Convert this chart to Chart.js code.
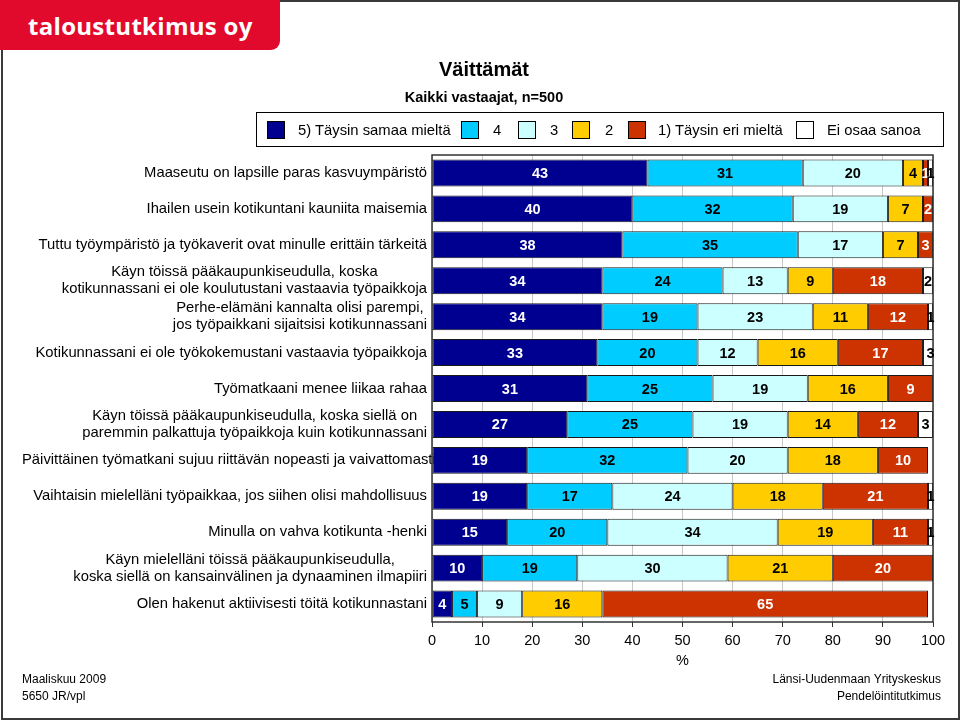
<!DOCTYPE html>
<html>
<head>
<meta charset="utf-8">
<script src="https://cdn.jsdelivr.net/npm/chart.js@4.4.1/dist/chart.umd.min.js"></script>
<style>
  html, body { margin: 0; padding: 0; background: #fff; }
  body { width: 960px; height: 720px; position: relative; overflow: hidden; font-family: "Liberation Sans", Arial, sans-serif; }
  #frame { position: absolute; left: 1px; top: 0; width: 955px; height: 716px; border: 2px solid #3a3a3a; box-sizing: content-box; }
  #logo { position: absolute; left: 0; top: 0; width: 280px; height: 50px; background: #e20a2c; border-bottom-right-radius: 9px; }
  #logo span { position: absolute; left: 28px; top: 9px; color: #fff; font-family: "Open Sans", sans-serif; font-weight: bold; font-size: 24px; letter-spacing: 0.3px; }
  #chart { position: absolute; left: 0; top: 0; }
  .title { position: absolute; left: 384px; width: 200px; text-align: center; font-weight: bold; color: #000; }
  #legend { position: absolute; left: 256px; top: 112px; width: 686px; height: 33px; border: 1px solid #000; font-size: 14.8px; }
  #legend .sw { position: absolute; top: 8px; width: 18px; height: 18px; border: 1px solid #000; box-sizing: border-box; }
  #legend .lt { position: absolute; top: 8px; line-height: 18px; }
  .foot { position: absolute; font-size: 12px; line-height: 17px; color: #000; }
</style>
</head>
<body>
<div id="frame"></div>
<canvas id="chart" width="960" height="720"></canvas>
<div id="logo"><span>taloustutkimus oy</span></div>
<div class="title" style="top:58px;font-size:20px;">Väittämät</div>
<div class="title" style="top:89px;font-size:14.5px;">Kaikki vastaajat, n=500</div>
<div id="legend"></div>
<div class="foot" style="left:22px;top:671px;">Maaliskuu 2009<br>5650 JR/vpl</div>
<div class="foot" style="right:19px;top:671px;text-align:right;">Länsi-Uudenmaan Yrityskeskus<br>Pendelöintitutkimus</div>
<script>
const categories = [
    ['Maaseutu on lapsille paras kasvuympäristö'],
    ['Ihailen usein kotikuntani kauniita maisemia'],
    ['Tuttu työympäristö ja työkaverit ovat minulle erittäin tärkeitä'],
    ['Käyn töissä pääkaupunkiseudulla, koska', 'kotikunnassani ei ole koulutustani vastaavia työpaikkoja'],
    ['Perhe-elämäni kannalta olisi parempi,', 'jos työpaikkani sijaitsisi kotikunnassani'],
    ['Kotikunnassani ei ole työkokemustani vastaavia työpaikkoja'],
    ['Työmatkaani menee liikaa rahaa'],
    ['Käyn töissä pääkaupunkiseudulla, koska siellä on', 'paremmin palkattuja työpaikkoja kuin kotikunnassani'],
    ['Päivittäinen työmatkani sujuu riittävän nopeasti ja vaivattomasti'],
    ['Vaihtaisin mielelläni työpaikkaa, jos siihen olisi mahdollisuus'],
    ['Minulla on vahva kotikunta -henki'],
    ['Käyn mielelläni töissä pääkaupunkiseudulla,', 'koska siellä on kansainvälinen ja dynaaminen ilmapiiri'],
    ['Olen hakenut aktiivisesti töitä kotikunnastani']
];

const seriesNames = ['5) Täysin samaa mieltä', '4', '3', '2', '1) Täysin eri mieltä', 'Ei osaa sanoa'];
const seriesColors = ['#000090', '#00ccff', '#ccffff', '#ffcc00', '#cc3300', '#ffffff'];
const labelColors = ['#fff', '#000', '#000', '#000', '#fff', '#000'];

const agree5 = [43, 40, 38, 34, 34, 33, 31, 27, 19, 19, 15, 10, 4];
const agree4 = [31, 32, 35, 24, 19, 20, 25, 25, 32, 17, 20, 19, 5];
const neutral3 = [20, 19, 17, 13, 23, 12, 19, 19, 20, 24, 34, 30, 9];
const disagree2 = [4, 7, 7, 9, 11, 16, 16, 14, 18, 18, 19, 21, 16];
const disagree1 = [1, 2, 3, 18, 12, 17, 9, 12, 10, 21, 11, 20, 65];
const dontKnow = [1, 0, 0, 2, 1, 3, 0, 3, 0, 1, 1, 0, 0];

const xTicks = [0, 10, 20, 30, 40, 50, 60, 70, 80, 90, 100];

const allSeries = [agree5, agree4, neutral3, disagree2, disagree1, dontKnow];

// legend (swatch x, text x relative to the box)
const legendPos = [[10, 41], [204, 236], [261, 293], [315, 348], [371, 401], [539, 570]];
const legend = document.getElementById('legend');
seriesNames.forEach((name, i) => {
    const sw = document.createElement('div');
    sw.className = 'sw';
    sw.style.left = legendPos[i][0] + 'px';
    sw.style.background = seriesColors[i];
    legend.appendChild(sw);
    const t = document.createElement('span');
    t.className = 'lt';
    t.style.left = legendPos[i][1] + 'px';
    t.textContent = name;
    legend.appendChild(t);
});

// y labels, lines centred within a right-aligned block; drawn under the bars
// so a label that is too long gets hidden by them, as in the original
const yLabelPlugin = {
    id: 'yLabels',
    beforeDatasetsDraw(chart) {
        const ctx = chart.ctx;
        const yScale = chart.scales.y;
        ctx.save();
        ctx.font = '14.8px "Liberation Sans", Arial, sans-serif';
        ctx.fillStyle = '#000';
        ctx.textAlign = 'center';
        ctx.textBaseline = 'middle';
        categories.forEach((lines, i) => {
            const y = yScale.getPixelForValue(i);
            const maxW = Math.max(...lines.map(l => ctx.measureText(l).width));
            let left = chart.chartArea.left - 5 - maxW;
            if (left < 22) left = 22;
            const cx = left + maxW / 2;
            const lh = 17;
            lines.forEach((l, j) => {
                ctx.fillText(l, cx, y + (j - (lines.length - 1) / 2) * lh);
            });
        });
        ctx.restore();
    }
};

// value labels and plot frame
const valuePlugin = {
    id: 'values',
    afterDatasetsDraw(chart) {
        const ctx = chart.ctx;
        const a = chart.chartArea;
        ctx.save();
        ctx.strokeStyle = '#333';
        ctx.lineWidth = 1.5;
        ctx.strokeRect(a.left, a.top, a.right - a.left, a.bottom - a.top);
        ctx.font = 'bold 14.5px "Liberation Sans", Arial, sans-serif';
        ctx.textAlign = 'center';
        ctx.textBaseline = 'middle';
        chart.data.datasets.forEach((ds, di) => {
            const meta = chart.getDatasetMeta(di);
            meta.data.forEach((bar, i) => {
                const v = ds.data[i];
                if (!v) return;
                const p = bar.getProps(['x', 'base', 'y'], true);
                ctx.fillStyle = labelColors[di];
                ctx.fillText(String(v), (p.x + p.base) / 2, p.y + 1);
            });
        });
        ctx.restore();
    }
};

new Chart(document.getElementById('chart').getContext('2d'), {
    type: 'bar',
    data: {
        labels: categories.map(c => c.join(' ')),
        datasets: allSeries.map((d, i) => ({
            label: seriesNames[i],
            data: d,
            backgroundColor: seriesColors[i],
            borderColor: '#1a1a1a',
            borderWidth: 1,
            borderSkipped: false,
            categoryPercentage: 1,
            barPercentage: 0.75
        }))
    },
    options: {
        indexAxis: 'y',
        responsive: false,
        animation: false,
        layout: { padding: { top: 155, right: 27, bottom: 46, left: 0 } },
        plugins: { legend: { display: false }, tooltip: { enabled: false } },
        scales: {
            x: {
                stacked: true,
                min: 0,
                max: 100,
                afterBuildTicks: s => { s.ticks = xTicks.map(v => ({ value: v })); },
                afterFit: s => { s.height = 52; },
                grid: { color: '#c8c8c8', tickColor: '#333', tickLength: 5, drawOnChartArea: true },
                border: { display: false },
                ticks: { color: '#000', font: { size: 14.5, family: '"Liberation Sans", Arial' }, padding: 5, maxRotation: 0 },
                title: { display: true, text: '%', color: '#000', font: { size: 14.5, family: '"Liberation Sans", Arial' }, padding: { top: 2, bottom: 4 } }
            },
            y: {
                stacked: true,
                afterFit: s => { s.width = 432; },
                grid: { display: false },
                border: { display: false },
                ticks: { display: false }
            }
        }
    },
    plugins: [yLabelPlugin, valuePlugin]
});
</script>
</body>
</html>
